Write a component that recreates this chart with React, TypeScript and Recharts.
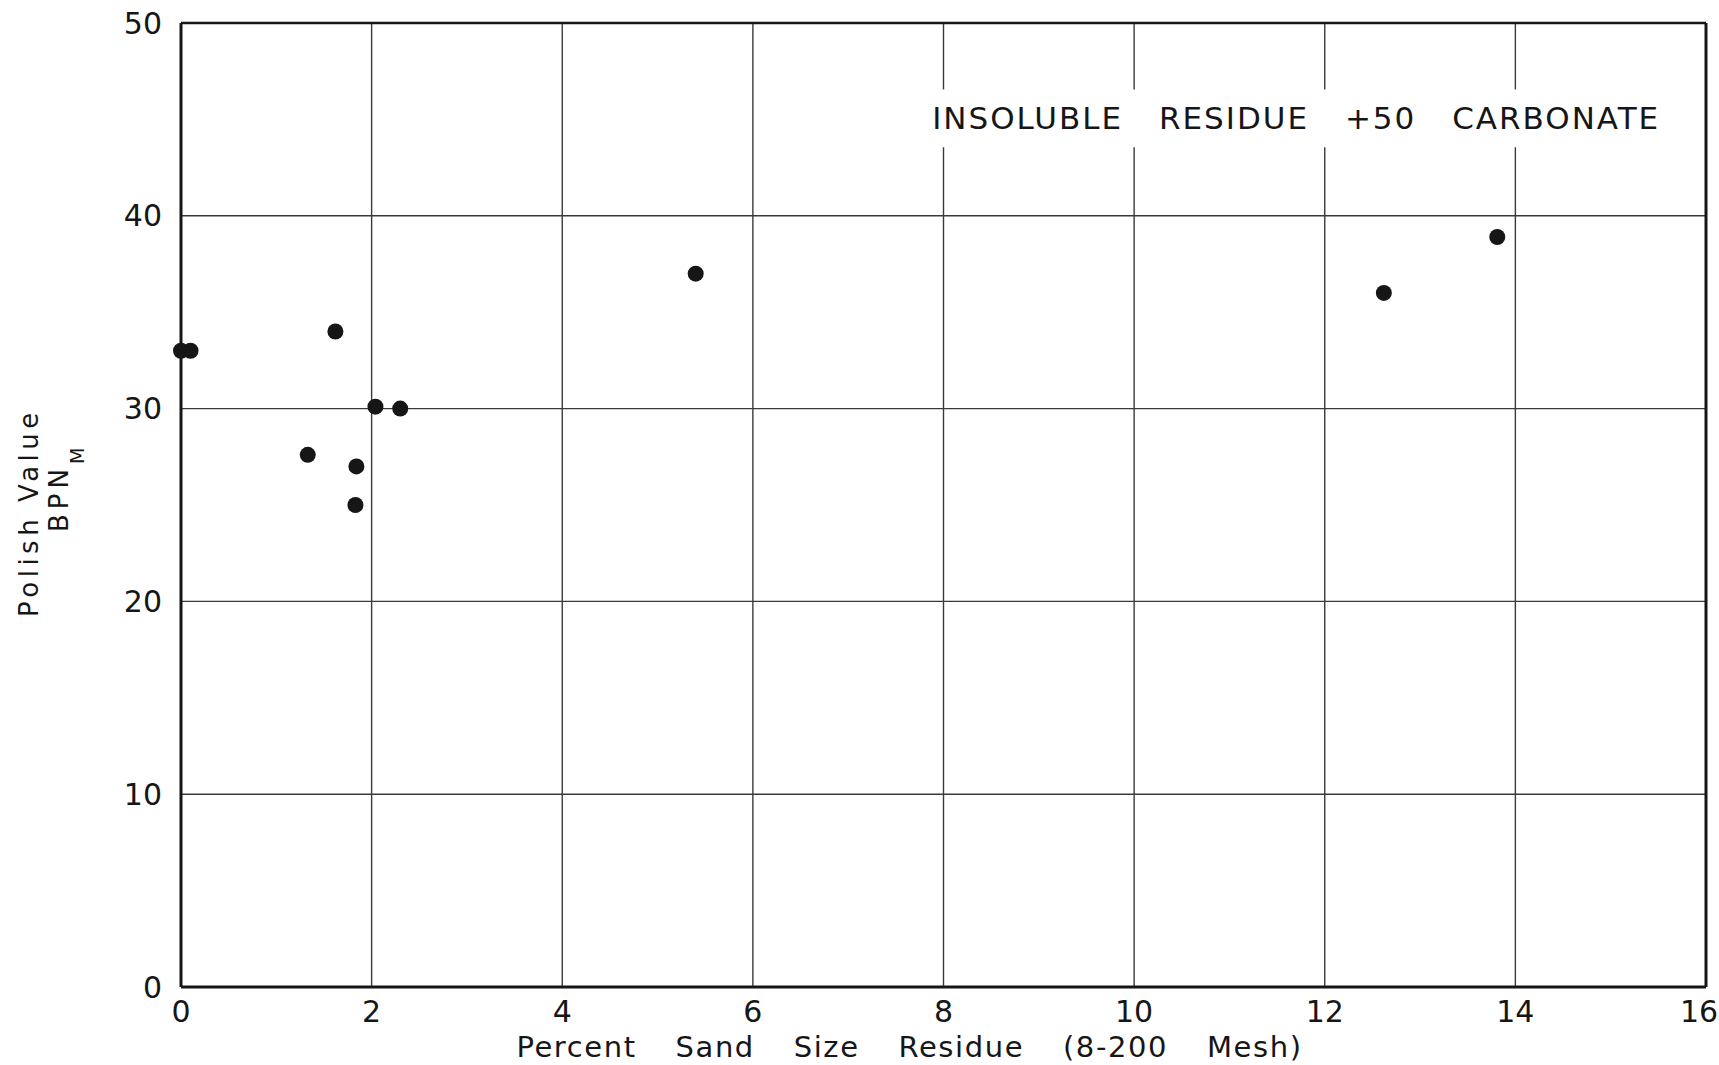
import {
  CartesianGrid,
  ReferenceArea,
  ReferenceLine,
  Scatter,
  ScatterChart,
  XAxis,
  YAxis,
} from "recharts";

// percent sand size residue (8-200 mesh) vs. polish value BPN_M
const sandResidue = [0, 0.1, 1.33, 1.62, 1.83, 1.84, 2.04, 2.3, 5.4, 12.62, 13.81];
const polishValue = [33, 33, 27.6, 34, 25, 27, 30.1, 30, 37, 36, 38.9];

const xTicks = [0, 2, 4, 6, 8, 10, 12, 14, 16];
const yTicks = [0, 10, 20, 30, 40, 50];

const xTitle = "Percent Sand Size Residue (8-200 Mesh)";
const yTitle = "Polish Value";
const yUnit = "BPN";
const yUnitSub = "M";
const noteText = "INSOLUBLE RESIDUE +50 CARBONATE";

const points = sandResidue.map((x, i) => ({ x, y: polishValue[i] }));

const FONT = "'DejaVu Sans', sans-serif";
const INK = "#161616";
const WIDTH = 1719;

const Dot = (props: any) => (
  <circle cx={props.cx} cy={props.cy} r={8} fill={INK} />
);

// keeps the last tick label ("16") inside the page
const XTick = ({ x, y, payload }: any) => (
  <text
    x={Math.min(x, WIDTH - 20)}
    y={y}
    dy="0.71em"
    textAnchor="middle"
    fill={INK}
    fontSize={30}
    fontFamily={FONT}
  >
    {payload.value}
  </text>
);

const App = () => {
  return (
    <div style={{ position: "absolute", left: 0, top: 0, background: "#fff" }}>
      <ScatterChart
        width={WIDTH}
        height={1065}
        margin={{ top: 23, right: 13, bottom: 48, left: 151 }}
      >
        <CartesianGrid
          stroke="#3a3a3a"
          strokeWidth={1.4}
          horizontalValues={yTicks}
          verticalValues={xTicks}
        />
        <XAxis
          dataKey="x"
          type="number"
          domain={[0, 16]}
          ticks={xTicks}
          height={30}
          tickSize={0}
          tickMargin={14}
          axisLine={{ stroke: INK, strokeWidth: 3 }}
          tick={<XTick />}
          label={{
            content: ({ viewBox }: any) => (
              <text
                x={viewBox.x + viewBox.width / 2 - 34}
                y={viewBox.y + 70}
                textAnchor="middle"
                fill={INK}
                fontSize={29}
                fontFamily={FONT}
                style={{ letterSpacing: 1.6, wordSpacing: 28 }}
              >
                {xTitle}
              </text>
            ),
          }}
        />
        <YAxis
          dataKey="y"
          type="number"
          domain={[0, 50]}
          ticks={yTicks}
          width={30}
          tickSize={0}
          tickMargin={19}
          axisLine={{ stroke: INK, strokeWidth: 3 }}
          tick={{ fill: INK, fontSize: 30, fontFamily: FONT }}
          label={{
            content: ({ viewBox }: any) => {
              const bx = viewBox.x;
              const by = viewBox.y + viewBox.height;
              const px = bx - 113;
              const py = by - 370;
              const ux = bx - 83;
              const uy = by - 455;
              return (
                <g fill={INK} fontFamily={FONT}>
                  <text
                    x={px}
                    y={py}
                    transform={`rotate(-90, ${px}, ${py})`}
                    fontSize={26}
                    style={{ letterSpacing: 4.5 }}
                  >
                    {yTitle}
                  </text>
                  <text
                    x={ux}
                    y={uy}
                    transform={`rotate(-90, ${ux}, ${uy})`}
                    fontSize={26}
                    style={{ letterSpacing: 5 }}
                  >
                    {yUnit}
                    <tspan dy={16} fontSize={19}>
                      {yUnitSub}
                    </tspan>
                  </text>
                </g>
              );
            },
          }}
        />
        <ReferenceArea
          x1={7.85}
          x2={15.55}
          y1={43.55}
          y2={46.55}
          fill="#fff"
          fillOpacity={1}
          stroke="none"
          label={{
            content: ({ viewBox }: any) => (
              <text
                x={viewBox.x + viewBox.width / 2}
                y={viewBox.y + viewBox.height / 2 + 11}
                textAnchor="middle"
                fill={INK}
                fontSize={31}
                fontFamily={FONT}
                style={{ letterSpacing: 2, wordSpacing: 24 }}
              >
                {noteText}
              </text>
            ),
          }}
        />
        <ReferenceLine y={50} stroke={INK} strokeWidth={2.5} />
        <ReferenceLine x={16} stroke={INK} strokeWidth={3} />
        <Scatter data={points} shape={Dot} isAnimationActive={false} />
      </ScatterChart>
    </div>
  );
};

export default App;
